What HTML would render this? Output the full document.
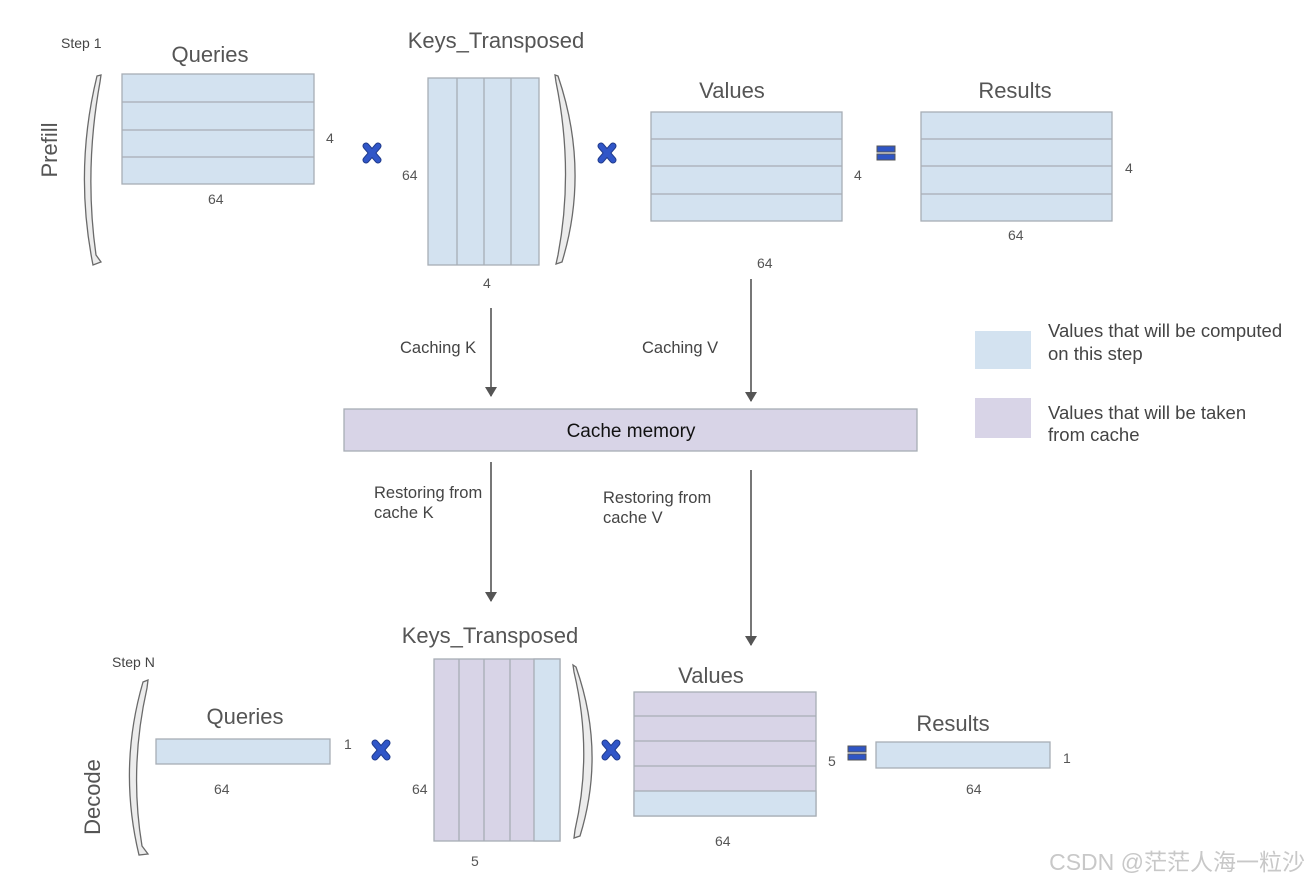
<!DOCTYPE html>
<html><head><meta charset="utf-8"><style>
html,body{margin:0;padding:0;background:#fff;}
svg{display:block;font-family:"Liberation Sans",Arial,sans-serif;}
</style></head><body>
<svg width="1310" height="886" viewBox="0 0 1310 886" xmlns="http://www.w3.org/2000/svg">
<defs>
<marker id="ah" markerWidth="10" markerHeight="12" refX="9" refY="6" orient="auto" markerUnits="userSpaceOnUse">
<path d="M0,0 L10,6 L0,12 Z" fill="#555"/>
</marker>
<g id="xm"><line x1="-6" y1="-7" x2="6" y2="7" stroke="#1f3a8a" stroke-width="7" stroke-linecap="round"/><line x1="6" y1="-7" x2="-6" y2="7" stroke="#1f3a8a" stroke-width="7" stroke-linecap="round"/><line x1="-6" y1="-7" x2="6" y2="7" stroke="#3056c8" stroke-width="5" stroke-linecap="round"/><line x1="6" y1="-7" x2="-6" y2="7" stroke="#3056c8" stroke-width="5" stroke-linecap="round"/></g>
<g id="eq"><rect x="-9" y="-7" width="18" height="6" fill="#2f55c5" stroke="#555" stroke-width="1"/><rect x="-9" y="1" width="18" height="6" fill="#2f55c5" stroke="#555" stroke-width="1"/></g>
</defs>
<!-- brackets -->
<g fill="#ececec" stroke="#6a6a6a" stroke-width="1.3">
<path d="M97,76 L101,75 L100,82 Q84,170 96,255 L101,262 L93,265 Q74,170 97,76 Z"/>
<path d="M558,76 L555,75 L556,82 Q574,170 558,255 L556,264 L562,262 Q590,170 558,76 Z"/>
<path d="M143,682 L148,680 L147,688 Q129,768 142,846 L148,854 L139,855 Q118,768 143,682 Z"/>
<path d="M576,667 L573,665 L574,672 Q593,752 575,830 L574,838 L580,836 Q606,752 576,667 Z"/>
</g>
<g font-size="14" fill="#444">
<text x="61" y="48">Step 1</text>
<text x="112" y="667">Step N</text>
</g>
<text transform="translate(57,150) rotate(-90)" text-anchor="middle" font-size="22" fill="#555">Prefill</text>
<text transform="translate(100,797) rotate(-90)" text-anchor="middle" font-size="22" fill="#555">Decode</text>
<!-- matrices -->
<g stroke="#a7adb5" stroke-width="1.3">
<rect x="122" y="74" width="192" height="110" fill="#d3e2f0"/>
<line x1="122" y1="102" x2="314" y2="102"/><line x1="122" y1="130" x2="314" y2="130"/><line x1="122" y1="157" x2="314" y2="157"/>
<rect x="428" y="78" width="111" height="187" fill="#d3e2f0"/>
<line x1="457" y1="78" x2="457" y2="265"/><line x1="484" y1="78" x2="484" y2="265"/><line x1="511" y1="78" x2="511" y2="265"/>
<rect x="651" y="112" width="191" height="109" fill="#d3e2f0"/>
<line x1="651" y1="139" x2="842" y2="139"/><line x1="651" y1="166" x2="842" y2="166"/><line x1="651" y1="194" x2="842" y2="194"/>
<rect x="921" y="112" width="191" height="109" fill="#d3e2f0"/>
<line x1="921" y1="139" x2="1112" y2="139"/><line x1="921" y1="166" x2="1112" y2="166"/><line x1="921" y1="194" x2="1112" y2="194"/>
<rect x="344" y="409" width="573" height="42" fill="#d8d4e7"/>
<rect x="975" y="331" width="56" height="38" fill="#d3e2f0" stroke="none"/>
<rect x="975" y="398" width="56" height="40" fill="#d8d4e7" stroke="none"/>
<rect x="156" y="739" width="174" height="25" fill="#d3e2f0"/>
<rect x="434" y="659" width="126" height="182" fill="#d8d4e7"/>
<rect x="534" y="659" width="26" height="182" fill="#d3e2f0"/>
<line x1="459" y1="659" x2="459" y2="841"/><line x1="484" y1="659" x2="484" y2="841"/><line x1="510" y1="659" x2="510" y2="841"/>
<rect x="634" y="692" width="182" height="124" fill="#d8d4e7"/>
<rect x="634" y="791" width="182" height="25" fill="#d3e2f0"/>
<line x1="634" y1="716" x2="816" y2="716"/><line x1="634" y1="741" x2="816" y2="741"/><line x1="634" y1="766" x2="816" y2="766"/>
<rect x="876" y="742" width="174" height="26" fill="#d3e2f0"/>
</g>
<use href="#xm" x="372" y="153"/><use href="#xm" x="607" y="153"/>
<use href="#xm" x="381" y="750"/><use href="#xm" x="611" y="750"/>
<use href="#eq" x="886" y="153"/><use href="#eq" x="857" y="753"/>
<!-- titles -->
<g font-size="22" fill="#555" text-anchor="middle">
<text x="210" y="62">Queries</text>
<text x="496" y="48">Keys_Transposed</text>
<text x="732" y="98">Values</text>
<text x="1015" y="98">Results</text>
<text x="245" y="724">Queries</text>
<text x="490" y="643">Keys_Transposed</text>
<text x="711" y="683">Values</text>
<text x="953" y="731">Results</text>
</g>
<g font-size="14" fill="#555">
<text x="326" y="143">4</text>
<text x="208" y="204">64</text>
<text x="402" y="180">64</text>
<text x="483" y="288">4</text>
<text x="854" y="180">4</text>
<text x="757" y="268">64</text>
<text x="1125" y="173">4</text>
<text x="1008" y="240">64</text>
<text x="344" y="749">1</text>
<text x="214" y="794">64</text>
<text x="412" y="794">64</text>
<text x="471" y="866">5</text>
<text x="828" y="766">5</text>
<text x="715" y="846">64</text>
<text x="1063" y="763">1</text>
<text x="966" y="794">64</text>
</g>
<g font-size="16.5" fill="#444">
<text x="400" y="353">Caching K</text>
<text x="642" y="353">Caching V</text>
<text x="374" y="498">Restoring from</text>
<text x="374" y="518">cache K</text>
<text x="603" y="503">Restoring from</text>
<text x="603" y="523">cache V</text>
</g>
<g font-size="18.5" fill="#444">
<text x="1048" y="337">Values that will be computed</text>
<text x="1048" y="360">on this step</text>
<text x="1048" y="419">Values that will be taken</text>
<text x="1048" y="441">from cache</text>
</g>
<text x="631" y="437" font-size="19" fill="#111" text-anchor="middle">Cache memory</text>
<g stroke="#555" stroke-width="1.6" marker-end="url(#ah)">
<line x1="491" y1="308" x2="491" y2="396"/>
<line x1="751" y1="279" x2="751" y2="401"/>
<line x1="491" y1="462" x2="491" y2="601"/>
<line x1="751" y1="470" x2="751" y2="645"/>
</g>
<text x="1305" y="870" text-anchor="end" font-size="23" fill="#c8c8c8" font-family="'Liberation Sans','Noto Sans CJK SC',sans-serif">CSDN @茫茫人海一粒沙</text>
</svg>
</body></html>
